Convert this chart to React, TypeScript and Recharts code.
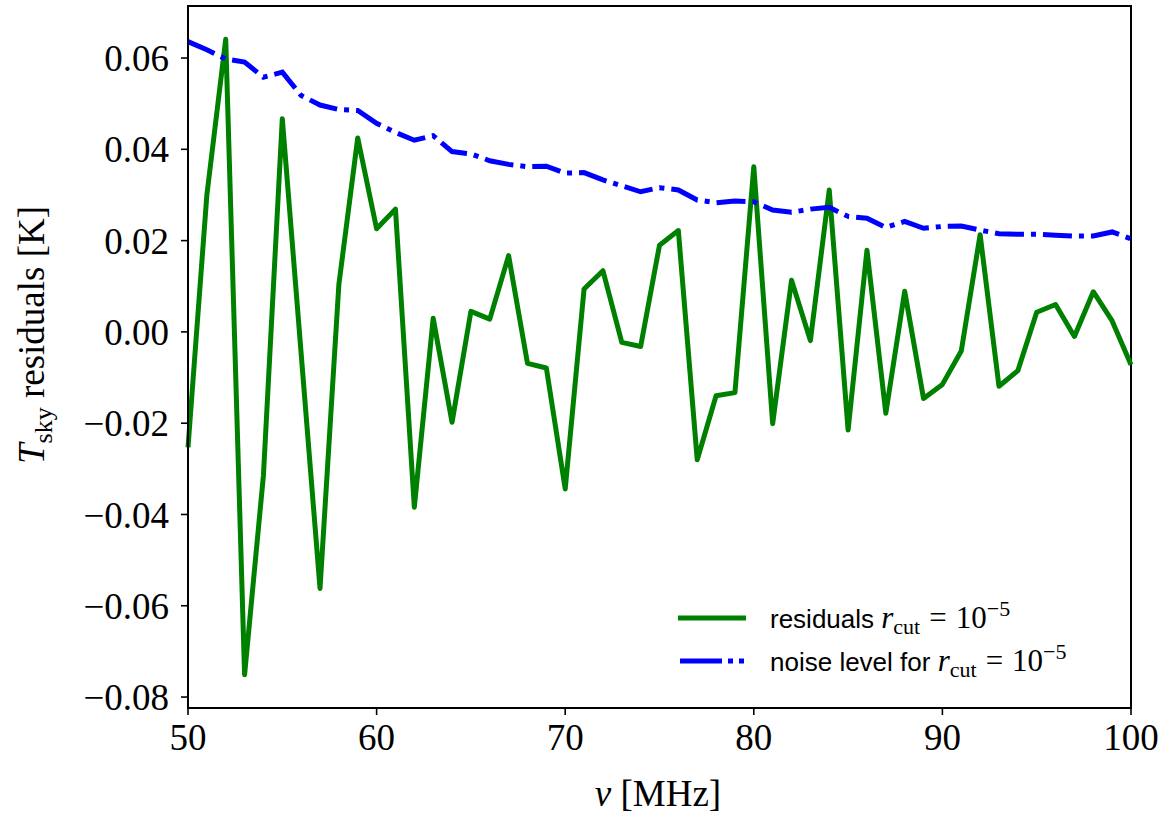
import React from 'react'
import { LineChart, Line, XAxis, YAxis, Legend, ReferenceArea } from 'recharts'

// frequency channels [MHz]
const nu = [
  50, 51, 52, 53, 54, 55, 56, 57, 58, 59,
  60, 61, 62, 63, 64, 65, 66, 67, 68, 69,
  70, 71, 72, 73, 74, 75, 76, 77, 78, 79,
  80, 81, 82, 83, 84, 85, 86, 87, 88, 89,
  90, 91, 92, 93, 94, 95, 96, 97, 98, 99, 100,
]

// T_sky residuals for r_cut = 1e-5 [K]
const residuals = [
  -0.0253, 0.03, 0.0641, -0.0751, -0.0314, 0.0467, -0.0048, -0.0562, 0.0104, 0.0425,
  0.0226, 0.0269, -0.0384, 0.003, -0.0198, 0.0045, 0.0028, 0.0167, -0.0069, -0.0079,
  -0.0344, 0.0094, 0.0134, -0.0023, -0.0032, 0.019, 0.0222, -0.028, -0.014, -0.0133,
  0.0362, -0.0201, 0.0113, -0.0019, 0.0311, -0.0215, 0.0179, -0.0178, 0.0089, -0.0146,
  -0.0115, -0.0042, 0.0213, -0.0119, -0.0085, 0.0043, 0.006, -0.001, 0.0088, 0.0024, -0.0072,
]

// noise level for r_cut = 1e-5 [K]
const noise = [
  0.0636, 0.0618, 0.0598, 0.0591, 0.0558, 0.0569, 0.0518, 0.0497, 0.0487, 0.0485,
  0.0457, 0.0437, 0.042, 0.043, 0.0395, 0.039, 0.0375, 0.0367, 0.0362, 0.0363,
  0.0348, 0.0349, 0.0333, 0.032, 0.0307, 0.0316, 0.0311, 0.0289, 0.0283, 0.0287,
  0.0285, 0.0267, 0.0262, 0.0269, 0.0273, 0.0253, 0.0249, 0.0229, 0.0242, 0.0227,
  0.0231, 0.0232, 0.0223, 0.0215, 0.0214, 0.0214, 0.0212, 0.021, 0.021, 0.0219, 0.0204,
]

const xTicks = [50, 60, 70, 80, 90, 100]
const yTicks = [-0.08, -0.06, -0.04, -0.02, 0, 0.02, 0.04, 0.06]
const xDomain: [number, number] = [50, 100]
const yDomain: [number, number] = [-0.0824, 0.0714]

const data = nu.map((v, i) => ({ nu: v, res: residuals[i], noise: noise[i] }))

const SERIF = '"Liberation Serif", "Times New Roman", serif'
const SANS = '"Liberation Sans", Arial, sans-serif'

const fmtY = (v: number) => {
  const s = Math.abs(v).toFixed(2)
  return v < -1e-9 ? '\u2212' + s : s
}

const tickStyle = { fontSize: 37, fill: '#000', fontFamily: SERIF }
const axisStyle = { stroke: '#000', strokeWidth: 2 }
const tickLineStyle = { stroke: '#000', strokeWidth: 1.6 }

function XLabel() {
  return (
    <text x={658} y={806} textAnchor="middle" fontFamily={SERIF} fontSize={37} fill="#000">
      <tspan fontStyle="italic">ν</tspan>
      <tspan> [MHz]</tspan>
    </text>
  )
}

function YLabel() {
  return (
    <text
      transform="translate(44,335) rotate(-90)"
      textAnchor="middle"
      fontFamily={SERIF}
      fontSize={37}
      fill="#000"
    >
      <tspan fontStyle="italic">T</tspan>
      <tspan fontSize={26} dy={8}>sky</tspan>
      <tspan dy={-8}> residuals [K]</tspan>
    </text>
  )
}

function MathRcut() {
  return (
    <span style={{ fontFamily: SERIF, fontSize: 31 }}>
      <i>r</i>
      <span style={{ fontSize: 22, position: 'relative', top: 6 }}>cut</span>
      <span style={{ margin: '0 9px' }}>=</span>
      <span>10</span>
      <span style={{ fontSize: 22, position: 'relative', top: -12 }}>−5</span>
    </span>
  )
}

function LegendBox() {
  const row = { display: 'flex', alignItems: 'center', height: 43 } as const
  return (
    <div style={{ fontFamily: SANS, fontSize: 26, color: '#000' }}>
      <div style={row}>
        <svg width={72} height={12}>
          <line x1={2} y1={6} x2={70} y2={6} stroke="#008000" strokeWidth={5} />
        </svg>
        <span style={{ marginLeft: 22 }}>
          residuals <MathRcut />
        </span>
      </div>
      <div style={row}>
        <svg width={72} height={12}>
          <line
            x1={4}
            y1={6}
            x2={70}
            y2={6}
            stroke="#0000ff"
            strokeWidth={5}
            strokeDasharray="42 6 5 6 5 40"
          />
        </svg>
        <span style={{ marginLeft: 22 }}>
          noise level for <MathRcut />
        </span>
      </div>
    </div>
  )
}

export default function App() {
  return (
    <div style={{ position: 'absolute', left: 0, top: 0, width: 1162, height: 814, background: '#fff' }}>
      <LineChart width={1162} height={814} data={data} margin={{ top: 6, right: 31, bottom: 0, left: 0 }}>
        <XAxis
          dataKey="nu"
          type="number"
          domain={xDomain}
          ticks={xTicks}
          height={106}
          tick={tickStyle}
          tickSize={7}
          tickMargin={9}
          axisLine={axisStyle}
          tickLine={tickLineStyle}
          label={{ content: () => <XLabel /> }}
        />
        <YAxis
          type="number"
          domain={yDomain}
          ticks={yTicks}
          width={188}
          tick={tickStyle}
          tickFormatter={fmtY}
          tickSize={7}
          tickMargin={12}
          axisLine={axisStyle}
          tickLine={tickLineStyle}
          allowDataOverflow
          label={{ content: () => <YLabel /> }}
        />
        <Legend
          layout="vertical"
          align="center"
          verticalAlign="middle"
          content={() => <LegendBox />}
          wrapperStyle={{ left: 676, top: 596, width: 460, height: 90 }}
        />
        <Line
          dataKey="res"
          stroke="#008000"
          strokeWidth={5}
          dot={false}
          strokeLinejoin="round"
          isAnimationActive={false}
        />
        <Line
          dataKey="noise"
          stroke="#0000ff"
          strokeWidth={5}
          strokeDasharray="29 7 5 7"
          dot={false}
          isAnimationActive={false}
        />
        <ReferenceArea
          x1={xDomain[0]}
          x2={xDomain[1]}
          y1={yDomain[0]}
          y2={yDomain[1]}
          fill="none"
          fillOpacity={0}
          stroke="#000"
          strokeWidth={2}
        />
      </LineChart>
    </div>
  )
}
